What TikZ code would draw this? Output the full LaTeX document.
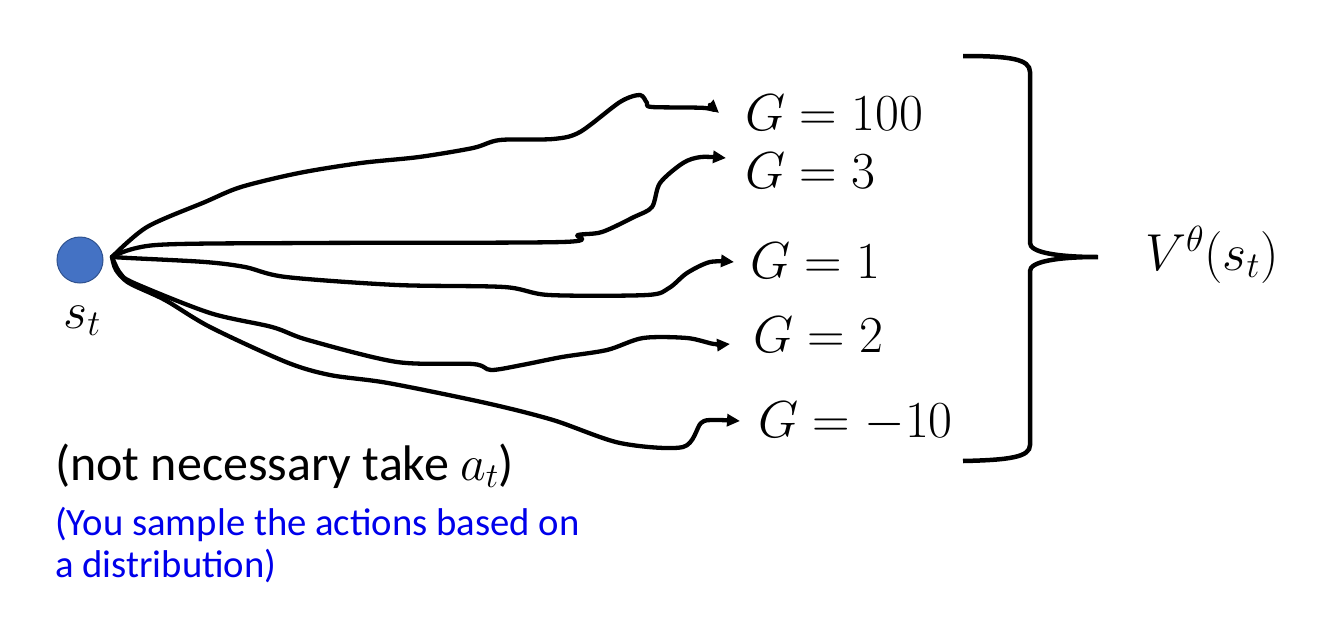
\documentclass[tikz,border=0pt]{standalone}
\usepackage{fix-cm}
\usepackage{fontspec}
\setmainfont{Carlito}
\usetikzlibrary{arrows.meta,calc}
\definecolor{dotfill}{RGB}{68,114,196}
\definecolor{dotline}{RGB}{47,82,143}
\definecolor{noteblue}{RGB}{0,0,235}
\begin{document}
\begin{tikzpicture}[x=1pt,y=-1pt,
  conn/.style={line width=4.3pt,line join=round,line cap=round,
    -{Triangle[length=13pt,width=12pt]}},
  glabel/.style={anchor=base west,inner sep=0pt,font=\fontsize{52}{60}\selectfont},
  bracestyle/.style={line width=4.5pt,line join=miter}]
\useasboundingbox (0,0) rectangle (1334,624);
% root state
\node[circle,fill=dotfill,draw=dotline,line width=1pt,minimum size=46pt,inner sep=0pt] (s) at (80,260) {};
\node[anchor=base,inner sep=0pt,font=\fontsize{52}{60}\selectfont] (slab) at (82,328) {$s_t$};
\coordinate (root) at (112,257);
% return labels
\node[glabel] (g100) at (745,130) {$G = 100$};
\node[glabel] (g3) at (745,188) {$G = 3$};
\node[glabel] (g1) at (750,278) {$G = 1$};
\node[glabel] (g2) at (753,352) {$G = 2$};
\node[glabel] (gm10) at (758,437) {$G = -10$};
\coordinate (e1) at (719,113);
\coordinate (e2) at (726,158);
\coordinate (e3) at (734,262);
\coordinate (e4) at (730,344);
\coordinate (e5) at (740,421);
% trajectories
\draw[conn] plot[smooth,tension=0.5] coordinates {(root) (147,227) (205,202) (241,187) (299,173) (361,163) (419,157) (473,148) (500,140) (553,139) (580,132) (620,102) (640,95) (647,103) (652,107) (705,108) (e1)};
\draw[conn] plot[smooth,tension=0.5] coordinates {(root) (156,245) (308,243) (562,242) (578,235) (602,232) (634,217) (652,207) (660,183) (683,163) (701,157) (e2)};
\draw[conn] plot[smooth,tension=0.5] coordinates {(root) (129,258) (205,262) (245,267) (286,277) (397,285) (504,287) (549,295) (647,295) (669,288) (687,273) (710,262) (e3)};
\draw[conn] plot[smooth,tension=0.5] coordinates {(root) (120,273) (134,283) (210,313) (272,327) (308,340) (397,362) (473,364) (491,370) (522,365) (562,357) (607,350) (643,338) (687,338) (714,344) (e4)};
\draw[conn] plot[smooth,tension=0.5] coordinates {(root) (116,270) (129,283) (165,300) (210,327) (286,362) (330,375) (388,383) (486,403) (553,420) (620,443) (683,447) (701,423) (714,420) (e5)};
% brace
\draw[bracestyle] (963,56) .. controls (1010,56) and (1030,59) .. (1030,72)
  -- (1030,243) .. controls (1030,252) and (1055,257) .. (1098,257)
  .. controls (1055,257) and (1030,262) .. (1030,271)
  -- (1030,445) .. controls (1030,457) and (1010,460) .. (963,461);
\node[anchor=base west,inner sep=0pt,font=\fontsize{52}{60}\selectfont] (v) at (1145,270) {$V^{\theta}(s_t)$};
% notes
\node[anchor=base west,inner sep=0pt,font=\fontsize{50}{60}\selectfont] (note) at (55,480) {(not necessary take $a_t$)};
\node[anchor=base west,inner sep=0pt,align=left,text=noteblue,font=\fontsize{38.7}{42}\selectfont] (note2) at (55,577) {(You sample the actions based on\\a distribution)};
\end{tikzpicture}
\end{document}
